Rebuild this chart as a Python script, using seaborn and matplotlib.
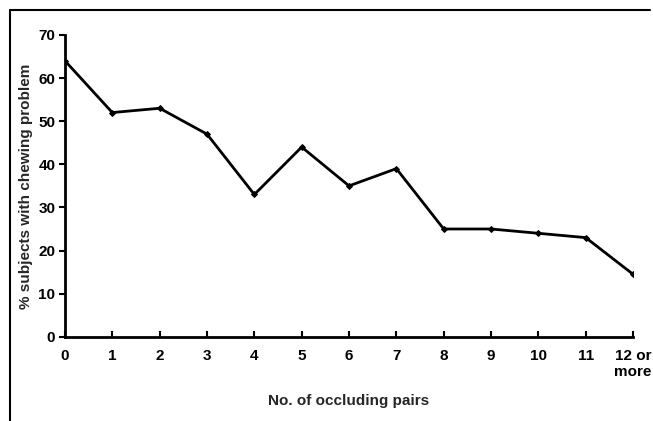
import numpy as np
import pandas as pd
import seaborn as sns
import matplotlib.pyplot as plt
from matplotlib.lines import Line2D

# data
pairs = ["0", "1", "2", "3", "4", "5", "6", "7", "8", "9", "10", "11", "12 or\nmore"]
pct_chewing = [64, 52, 53, 47, 33, 44, 35, 39, 25, 25, 24, 23, 14.5]
y_ticks = [0, 10, 20, 30, 40, 50, 60, 70]

df = pd.DataFrame({"pairs": pairs, "pct": pct_chewing})

sns.set_style("white")
plt.rcParams["font.family"] = ["Liberation Sans", "DejaVu Sans"]
plt.rcParams["font.weight"] = "bold"

fig = plt.figure(figsize=(6.53, 4.21), dpi=100)
ax = fig.add_axes([0.0995, 0.2, 0.8700, 0.717])

sns.lineplot(data=df, x="pairs", y="pct", sort=False, color="black",
             linewidth=2, marker="D", markersize=3, markeredgecolor="black", ax=ax)

ax.set_xlim(0, len(pairs) - 1)
ax.set_ylim(0, 70)
ax.set_yticks(y_ticks)
ax.set_xticks(range(len(pairs)))
ax.set_xticklabels(pairs, fontsize=11, fontweight="bold", va="top", linespacing=1.15)
ax.set_yticklabels([str(t) for t in y_ticks], fontsize=11, fontweight="bold")

for side in ["top", "right"]:
    ax.spines[side].set_visible(False)
for side in ["left", "bottom"]:
    ax.spines[side].set_linewidth(2)
    ax.spines[side].set_color("black")

ax.tick_params(axis="y", direction="out", length=4, width=1.5, pad=3, colors="black", left=True)
ax.tick_params(axis="x", direction="in", length=4, width=1.5, pad=9, colors="black", bottom=True)

ax.set_xlabel("No. of occluding pairs", fontsize=11, fontweight="bold", labelpad=11)
ax.set_ylabel("% subjects with chewing problem", fontsize=11, fontweight="bold", labelpad=4)

# frame around the figure (top and left edges as in original)
fig.add_artist(Line2D([10 / 653, 650 / 653], [1 - 10 / 421, 1 - 10 / 421], color="black", lw=1.5))
fig.add_artist(Line2D([10 / 653, 10 / 653], [0, 1 - 10 / 421], color="black", lw=1.5))

fig.savefig("out.png", dpi=100)
